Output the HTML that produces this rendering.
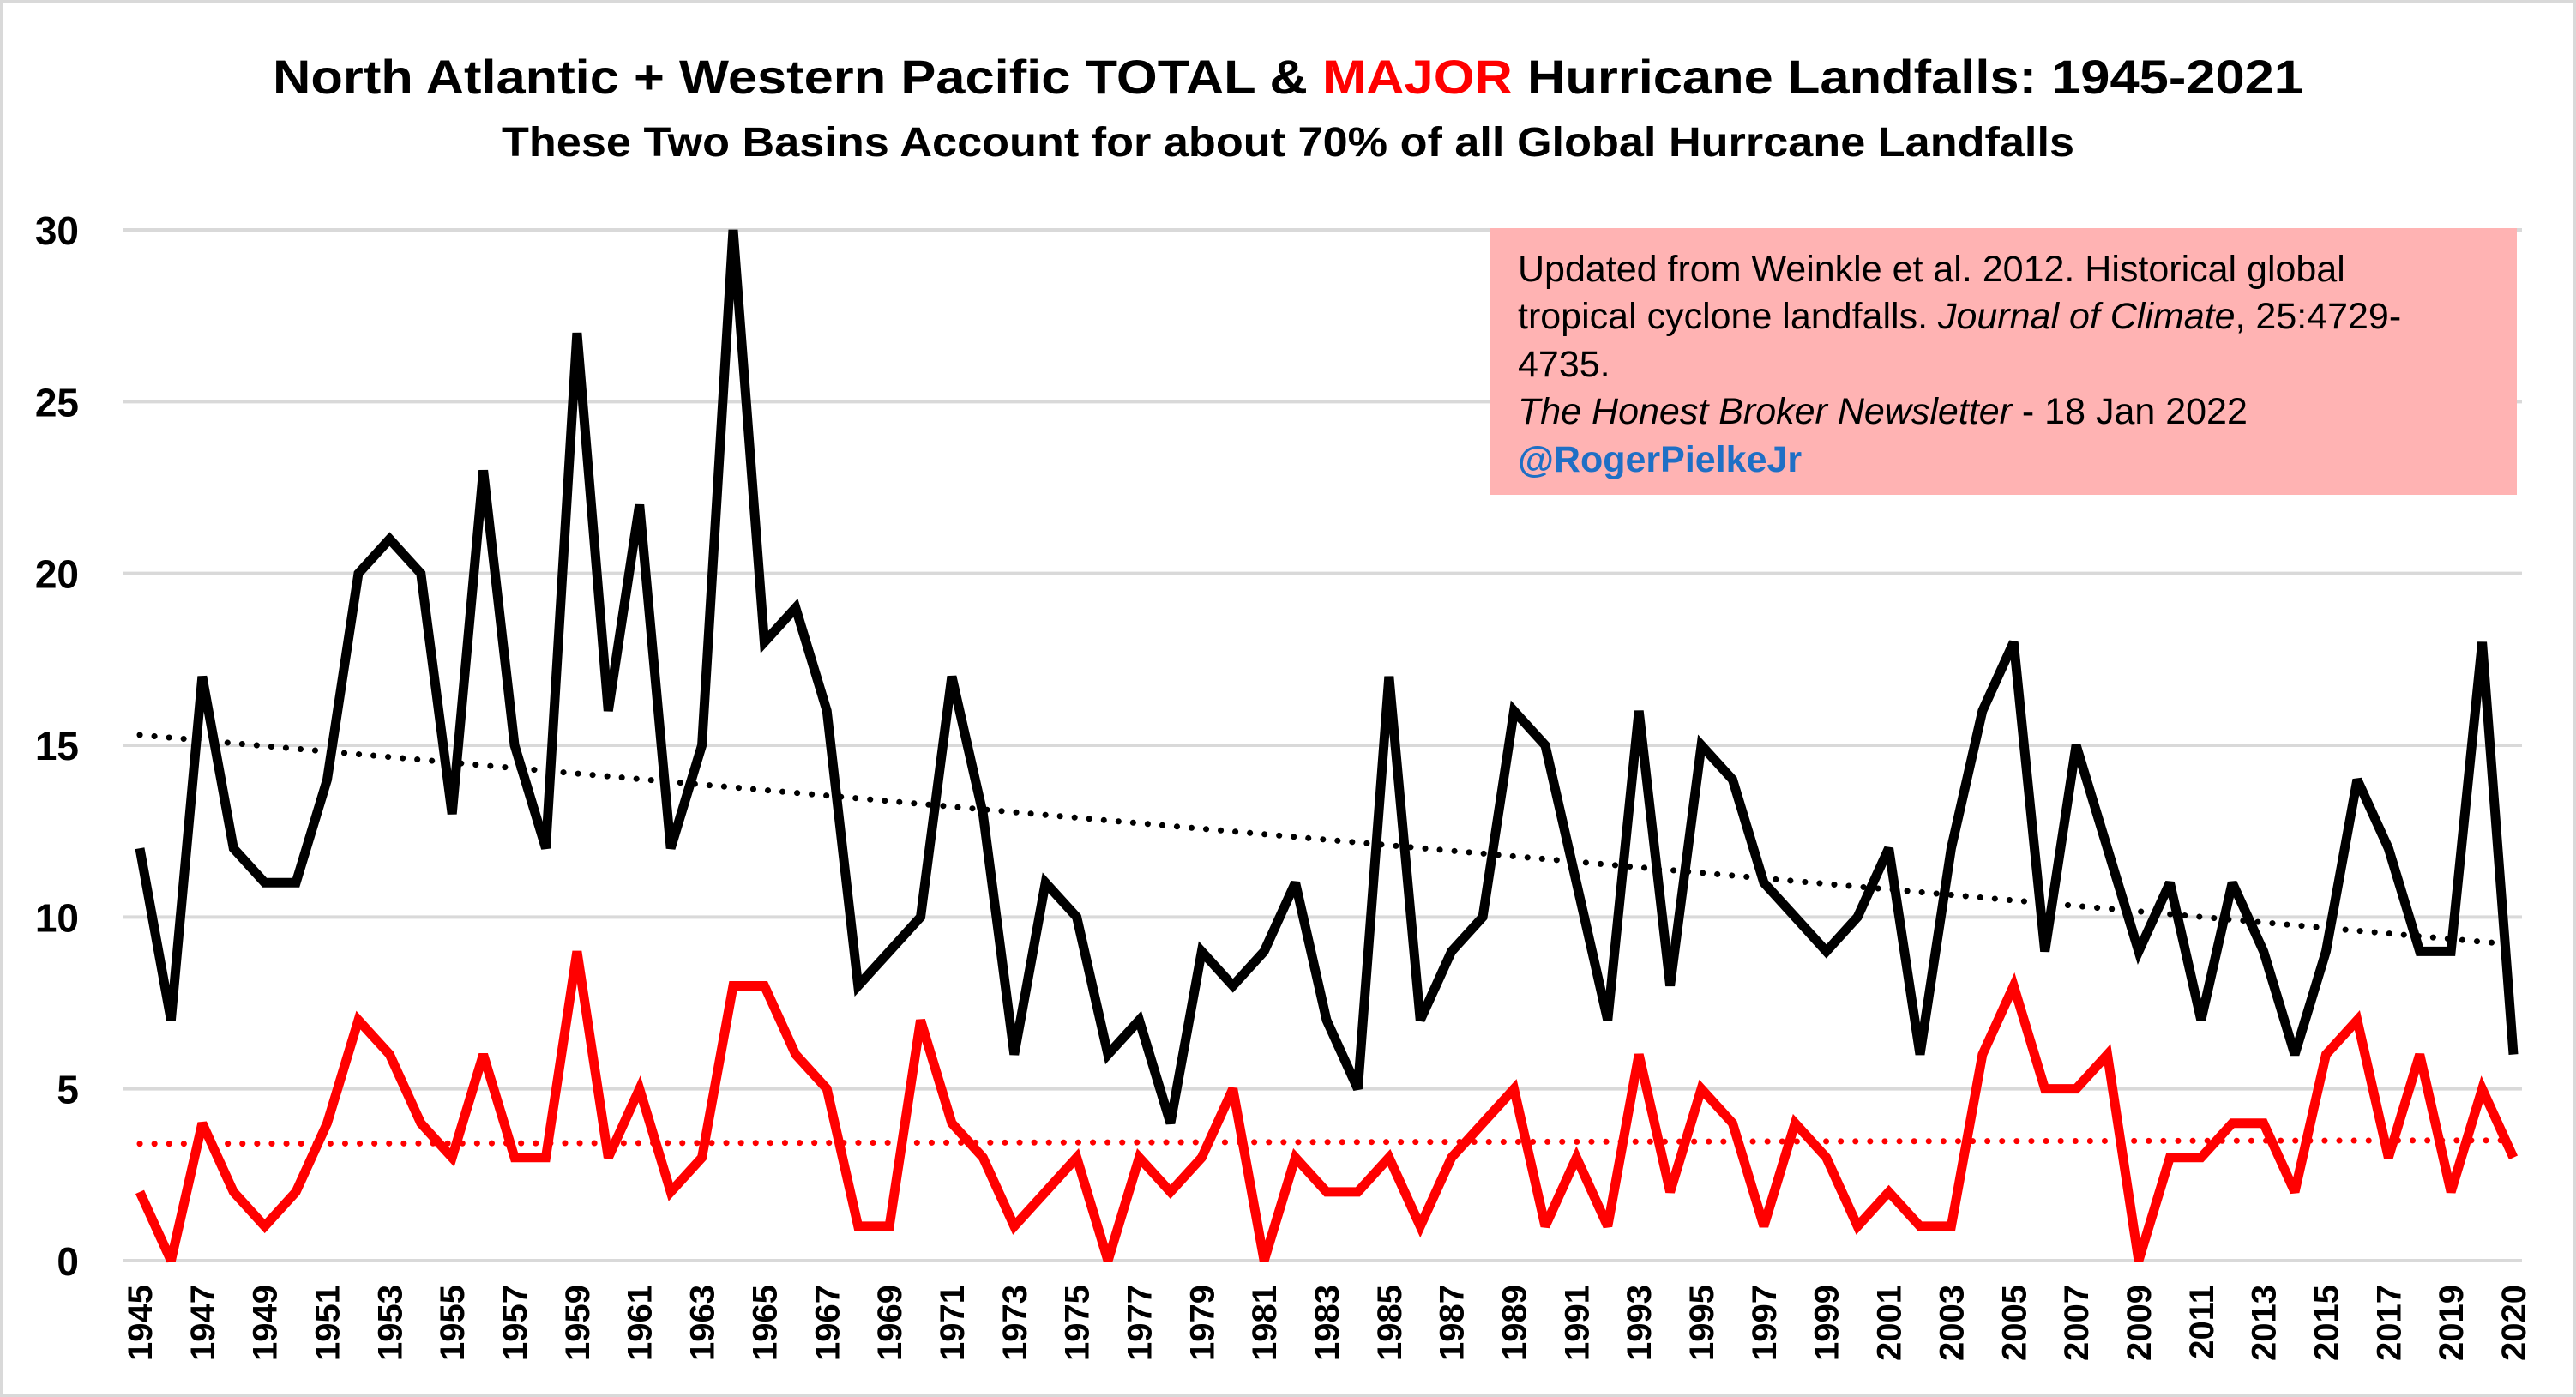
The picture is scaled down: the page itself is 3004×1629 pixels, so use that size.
<!DOCTYPE html>
<html><head><meta charset="utf-8"><style>
html,body{margin:0;padding:0;background:#fff}
svg{display:block}
text{font-family:"Liberation Sans",sans-serif}
</style></head><body>
<svg id="chart" width="3004" height="1629" viewBox="0 0 3004 1629" xmlns="http://www.w3.org/2000/svg">
<rect x="2" y="2" width="3000" height="1625" fill="#fff" stroke="#d9d9d9" stroke-width="4"/>
<text x="1502" y="109" text-anchor="middle" font-size="56" font-weight="bold" textLength="2368" lengthAdjust="spacingAndGlyphs">North Atlantic + Western Pacific TOTAL &amp; <tspan fill="#ff0000">MAJOR</tspan> Hurricane Landfalls: 1945-2021</text>
<text x="1502" y="182" text-anchor="middle" font-size="48" font-weight="bold" textLength="1834" lengthAdjust="spacingAndGlyphs">These Two Basins Account for about 70% of all Global Hurrcane Landfalls</text>
<g id="grid"></g>
<g id="yticks"></g>
<g id="xticks"></g>
<g id="series"></g>
<g>
<rect x="1738" y="266" width="1197" height="311" fill="#ffb3b3"/>
<text x="1770" y="328" font-size="43">Updated from Weinkle et al. 2012. Historical global</text>
<text x="1770" y="383" font-size="43">tropical cyclone landfalls. <tspan font-style="italic">Journal of Climate</tspan>, 25:4729-</text>
<text x="1770" y="439" font-size="43">4735.</text>
<text x="1770" y="494" font-size="43"><tspan font-style="italic">The Honest Broker Newsletter</tspan> - 18 Jan 2022</text>
<text x="1770" y="550" font-size="43" font-weight="bold" fill="#1f6fc5">@RogerPielkeJr</text>
</g>
</svg>
<script>
const categories = ["1945","1946","1947","1948","1949","1950","1951","1952","1953","1954","1955","1956","1957","1958","1959","1960","1961","1962","1963","1964","1965","1966","1967","1968","1969","1970","1971","1972","1973","1974","1975","1976","1977","1978","1979","1980","1981","1982","1983","1984","1985","1986","1987","1988","1989","1990","1991","1992","1993","1994","1995","1996","1997","1998","1999","2000","2001","2002","2003","2004","2005","2006","2007","2008","2009","2010","2011","2012","2013","2014","2015","2016","2017","2018","2019","2020","2020"];
const totalLandfalls = [12,7,17,12,11,11,14,20,21,20,13,23,15,12,27,16,22,12,15,30,18,19,16,8,9,10,17,13,6,11,10,6,7,4,9,8,9,11,7,5,17,7,9,10,16,15,11,7,16,8,15,14,11,10,9,10,12,6,12,16,18,9,15,12,9,11,7,11,9,6,9,14,12,9,9,18,6];
const majorLandfalls = [2,0,4,2,1,2,4,7,6,4,3,6,3,3,9,3,5,2,3,8,8,6,5,1,1,7,4,3,1,2,3,0,3,2,3,5,0,3,2,2,3,1,3,4,5,1,3,1,6,2,5,4,1,4,3,1,2,1,1,6,8,5,5,6,0,3,3,4,4,2,6,7,3,6,2,5,3];
const totalTrend = [15.3, 9.2];
const majorTrend = [3.4, 3.5];
const yTicks = [0,5,10,15,20,25,30];

const NS="http://www.w3.org/2000/svg";
const X0=163, X1=2931, Y0=1470, Y1=268, YMAX=30;
const n=categories.length;
function xs(i){return X0+(X1-X0)*i/(n-1);}
function ys(v){return Y0-(Y0-Y1)*v/YMAX;}
function mk(tag,attrs,parent){const e=document.createElementNS(NS,tag);for(const k in attrs)e.setAttribute(k,attrs[k]);parent.appendChild(e);return e;}

const grid=document.getElementById('grid'), yt=document.getElementById('yticks'), xt=document.getElementById('xticks'), ser=document.getElementById('series');
yTicks.forEach(v=>{
  const l=mk('line',{x1:144,x2:2941,y1:ys(v),y2:ys(v),stroke:'#d9d9d9','stroke-width':4},grid);
  
  
  const t=mk('text',{x:92,y:ys(v)+17,'text-anchor':'end','font-size':46,'font-weight':'bold'},yt);
  t.textContent=v;
  
  
});
categories.forEach((c,i)=>{
  if(i%2!==0)return;
  const x=xs(i)+14;
  const t=mk('text',{x:x,y:1498,transform:'rotate(-90 '+x+' 1498)','text-anchor':'end','font-size':40,'font-weight':'bold'},xt);
  t.textContent=c;
  
  
});
function trend(arr,color,name){
  const l=mk('line',{x1:xs(0),y1:ys(arr[0]),x2:xs(n-1),y2:ys(arr[1]),stroke:color,'stroke-width':7,'stroke-dasharray':'0.1 17','stroke-linecap':'round'},ser);
  
  
}
function line(arr,color,name){
  const p=mk('polyline',{points:arr.map((v,i)=>xs(i)+','+ys(v)).join(' '),fill:'none',stroke:color,'stroke-width':11,'stroke-linejoin':'miter','stroke-miterlimit':3},ser);
  
  
}
trend(totalTrend,'#000','total-trend-line');
trend(majorTrend,'#ff0000','major-trend-line');
line(totalLandfalls,'#000','total-landfalls-line');
line(majorLandfalls,'#ff0000','major-landfalls-line');
</script>
</body></html>
